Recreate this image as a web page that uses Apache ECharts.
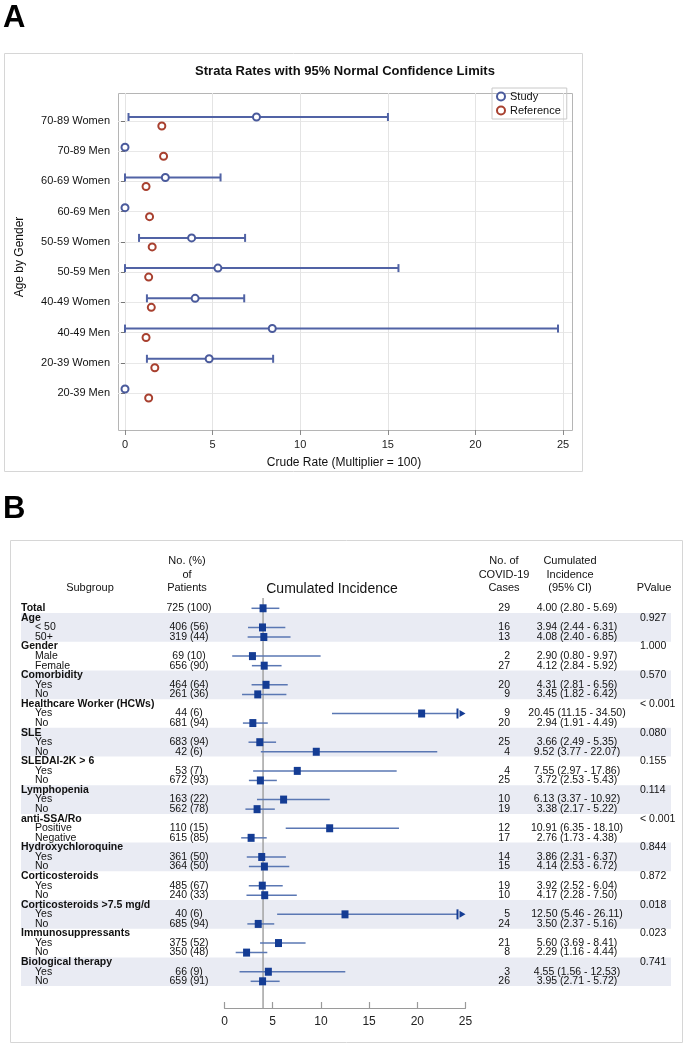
<!DOCTYPE html>
<html>
<head>
<meta charset="utf-8">
<script src="https://cdn.jsdelivr.net/npm/echarts@6/dist/echarts.min.js"></script>
<style>
  html, body { margin: 0; padding: 0; background: #fff; }
  #chart { width: 685px; height: 1045px; }
</style>
</head>
<body>
<div id="chart"></div>
<script>
// ---- Panel A : strata rates ----
var ageGender = ['70-89 Women', '70-89 Men', '60-69 Women', '60-69 Men', '50-59 Women',
                 '50-59 Men', '40-49 Women', '40-49 Men', '20-39 Women', '20-39 Men'];
var studyRate  = [7.5, 0, 2.3, 0, 3.8, 5.3, 4.0, 8.4, 4.8, 0];
var studyLower = [0.2, null, 0.0, null, 0.8, 0.0, 1.25, 0.0, 1.25, null];
var studyUpper = [15.0, null, 5.45, null, 6.85, 15.6, 6.8, 24.7, 8.45, null];
var referenceRate = [2.1, 2.2, 1.2, 1.4, 1.55, 1.35, 1.5, 1.2, 1.7, 1.35];
var rateTicks = [0, 5, 10, 15, 20, 25];

// ---- Panel B : cumulated incidence by subgroup ----
var rowLabels = ['Total', 'Age', '< 50', '50+', 'Gender', 'Male', 'Female', 'Comorbidity', 'Yes', 'No',
  'Healthcare Worker (HCWs)', 'Yes', 'No', 'SLE', 'Yes', 'No', 'SLEDAI-2K > 6', 'Yes', 'No',
  'Lymphopenia', 'Yes', 'No', 'anti-SSA/Ro', 'Positive', 'Negative', 'Hydroxychloroquine', 'Yes', 'No',
  'Corticosteroids', 'Yes', 'No', 'Corticosteroids >7.5 mg/d', 'Yes', 'No',
  'Immunosuppressants', 'Yes', 'No', 'Biological therapy', 'Yes', 'No'];
var groupNames = ['Age', 'Gender', 'Comorbidity', 'Healthcare Worker (HCWs)', 'SLE', 'SLEDAI-2K > 6',
  'Lymphopenia', 'anti-SSA/Ro', 'Hydroxychloroquine', 'Corticosteroids', 'Corticosteroids >7.5 mg/d',
  'Immunosuppressants', 'Biological therapy'];
var pValues = ['0.927', '1.000', '0.570', '< 0.001', '0.080', '0.155', '0.114', '< 0.001',
  '0.844', '0.872', '0.018', '0.023', '0.741'];
var patientsN = [725, null, 406, 319, null, 69, 656, null, 464, 261, null, 44, 681, null, 683, 42,
  null, 53, 672, null, 163, 562, null, 110, 615, null, 361, 364, null, 485, 240, null, 40, 685,
  null, 375, 350, null, 66, 659];
var patientsPct = [100, null, 56, 44, null, 10, 90, null, 64, 36, null, 6, 94, null, 94, 6,
  null, 7, 93, null, 22, 78, null, 15, 85, null, 50, 50, null, 67, 33, null, 6, 94,
  null, 52, 48, null, 9, 91];
var cases = [29, null, 16, 13, null, 2, 27, null, 20, 9, null, 9, 20, null, 25, 4,
  null, 4, 25, null, 10, 19, null, 12, 17, null, 14, 15, null, 19, 10, null, 5, 24,
  null, 21, 8, null, 3, 26];
var incidence = [4.00, null, 3.94, 4.08, null, 2.90, 4.12, null, 4.31, 3.45, null, 20.45, 2.94,
  null, 3.66, 9.52, null, 7.55, 3.72, null, 6.13, 3.38, null, 10.91, 2.76, null, 3.86, 4.14,
  null, 3.92, 4.17, null, 12.50, 3.50, null, 5.60, 2.29, null, 4.55, 3.95];
var ciLow = [2.80, null, 2.44, 2.40, null, 0.80, 2.84, null, 2.81, 1.82, null, 11.15, 1.91,
  null, 2.49, 3.77, null, 2.97, 2.53, null, 3.37, 2.17, null, 6.35, 1.73, null, 2.31, 2.53,
  null, 2.52, 2.28, null, 5.46, 2.37, null, 3.69, 1.16, null, 1.56, 2.71];
var ciHigh = [5.69, null, 6.31, 6.85, null, 9.97, 5.92, null, 6.56, 6.42, null, 34.50, 4.49,
  null, 5.35, 22.07, null, 17.86, 5.43, null, 10.92, 5.22, null, 18.10, 4.38, null, 6.37, 6.72,
  null, 6.04, 7.50, null, 26.11, 5.16, null, 8.41, 4.44, null, 12.53, 5.72];
var incidenceTicks = [0, 5, 10, 15, 20, 25];

var FONT = '"Liberation Sans", Arial, sans-serif';
var INK = '#111';
var BAR_BLUE = '#5163a5', STUDY_BLUE = '#4a5a9c', REF_RED = '#a8402f';
var FOREST_LINE = '#5a77b3', FOREST_MARK = '#143c94';
// column x positions of the table in panel B
var COL = { group: 21, sub: 35, patients: 189, cases: 510, ci: 577, p: 640, bandL: 21, bandR: 671 };

var chart = echarts.init(document.getElementById('chart'));

// 文本元素
function txt(x, y, s, align, bold, size) {
    return {
        type: 'text', x: x, y: y,
        style: {
            text: s, fill: INK,
            font: (bold ? 'bold ' : '') + (size || 10.5) + 'px ' + FONT,
            align: align, verticalAlign: 'middle',
            textAlign: align, textVerticalAlign: 'middle'
        }
    };
}

// 误差线 (panel A)
function renderErrorBar(params, api) {
    var row = api.value(0);
    var p1 = api.coord([api.value(1), row]);
    var p2 = api.coord([api.value(2), row]);
    var y = p1[1] - 4;
    var st = { stroke: BAR_BLUE, lineWidth: 2 };
    return {
        type: 'group',
        children: [
            { type: 'line', shape: { x1: p1[0], y1: y, x2: p2[0], y2: y }, style: st },
            { type: 'line', shape: { x1: p1[0], y1: y - 4, x2: p1[0], y2: y + 4 }, style: st },
            { type: 'line', shape: { x1: p2[0], y1: y - 4, x2: p2[0], y2: y + 4 }, style: st }
        ]
    };
}

// 森林图 (panel B)
function renderForest(params, api) {
    var row = api.value(0), est = api.value(1), lo = api.value(2), hi = api.value(3);
    var axisMax = incidenceTicks[incidenceTicks.length - 1];
    var pe = api.coord([est, row]);
    var y = pe[1];
    var xL = api.coord([lo, row])[0];
    var xEnd = api.coord([axisMax, row])[0];
    var over = hi > axisMax;
    var xH = over ? xEnd - 8 : api.coord([hi, row])[0];
    var kids = [
        { type: 'line', shape: { x1: xL, y1: y, x2: xH, y2: y }, style: { stroke: FOREST_LINE, lineWidth: 1.5 } },
        { type: 'rect', shape: { x: pe[0] - 3.5, y: y - 4, width: 7, height: 8 }, style: { fill: FOREST_MARK } }
    ];
    if (over) {
        kids.push({ type: 'line', shape: { x1: xH, y1: y - 5, x2: xH, y2: y + 5 }, style: { stroke: FOREST_MARK, lineWidth: 2 } });
        kids.push({ type: 'polygon', shape: { points: [[xEnd - 6, y - 3.5], [xEnd, y], [xEnd - 6, y + 3.5]] }, style: { fill: FOREST_MARK } });
    }
    return { type: 'group', children: kids };
}

// 灰色分组背景
function renderBand(params, api) {
    var half = api.size([0, 1])[1] / 2;
    var y1 = api.coord([0, api.value(1)])[1] - half;
    var y2 = api.coord([0, api.value(2)])[1] + half;
    return {
        type: 'rect',
        shape: { x: COL.bandL, y: y1, width: COL.bandR - COL.bandL, height: y2 - y1 },
        style: { fill: '#e9ebf3' }
    };
}

// 表格文字
function renderTable(params, api) {
    var i = api.value(1);
    var y = api.coord([0, i])[1];
    var label = rowLabels[i];
    var g = groupNames.indexOf(label);
    var isHead = label === 'Total' || g >= 0;
    var kids = [txt(isHead ? COL.group : COL.sub, y, label, 'left', isHead)];
    if (patientsN[i] != null) {
        kids.push(txt(COL.patients, y, patientsN[i] + ' (' + patientsPct[i] + ')', 'center'));
        kids.push(txt(COL.cases, y, String(cases[i]), 'right'));
        kids.push(txt(COL.ci, y, incidence[i].toFixed(2) + ' (' + ciLow[i].toFixed(2) + ' - ' + ciHigh[i].toFixed(2) + ')', 'center'));
    }
    if (g >= 0) {
        kids.push(txt(COL.p, y, pValues[g], 'left'));
    }
    return { type: 'group', children: kids };
}

// bands: every other subgroup block
var bandData = [];
var headIdx = [];
rowLabels.forEach(function (l, i) { if (groupNames.indexOf(l) >= 0) headIdx.push(i); });
headIdx.forEach(function (start, k) {
    var end = (k + 1 < headIdx.length ? headIdx[k + 1] : rowLabels.length) - 1;
    if (k % 2 === 0) bandData.push([0, start, end]);
});

var forestData = [];
incidence.forEach(function (v, i) {
    if (v != null) forestData.push([i, v, ciLow[i], ciHigh[i]]);
});

var errorData = [];
studyLower.forEach(function (v, i) {
    if (v != null) errorData.push([i, v, studyUpper[i]]);
});

var headerStyle = function (s, x, y, size, lh) {
    return {
        type: 'text', x: x, y: y, z: 10,
        style: {
            text: s, fill: INK, font: (size || 11) + 'px ' + FONT, lineHeight: lh || 13.3,
            align: 'center', verticalAlign: 'middle', textAlign: 'center', textVerticalAlign: 'middle'
        }
    };
};

chart.setOption({
    animation: false,
    textStyle: { fontFamily: FONT },
    graphic: [
        { type: 'text', x: 3, y: 3, style: { text: 'A', fill: '#000', font: 'bold 31px ' + FONT } },
        { type: 'rect', shape: { x: 4.5, y: 53.5, width: 578, height: 418 }, style: { fill: 'none', stroke: '#d6d6d6', lineWidth: 1 } },
        { type: 'rect', shape: { x: 118.5, y: 93.5, width: 454, height: 337 }, style: { fill: 'none', stroke: '#b5b5b5', lineWidth: 1 } },
        {
            type: 'text', x: 345, y: 71,
            style: { text: 'Strata Rates with 95% Normal Confidence Limits', fill: INK, font: 'bold 13px ' + FONT,
                     align: 'center', verticalAlign: 'middle', textAlign: 'center', textVerticalAlign: 'middle' }
        },
        { type: 'text', x: 3, y: 494, style: { text: 'B', fill: '#000', font: 'bold 31px ' + FONT } },
        { type: 'rect', shape: { x: 10.5, y: 540.5, width: 672, height: 502 }, style: { fill: 'none', stroke: '#d6d6d6', lineWidth: 1 } },
        headerStyle('Subgroup', 90, 588),
        headerStyle('No. (%)\nof\nPatients', 187, 574.5),
        headerStyle('Cumulated Incidence', 332, 589, 14),
        headerStyle('No. of\nCOVID-19\nCases', 504, 574.5),
        headerStyle('Cumulated\nIncidence\n(95% CI)', 570, 574.5),
        headerStyle('PValue', 654, 588)
    ],
    legend: {
        left: 492, top: 88, orient: 'vertical',
        itemWidth: 8, itemHeight: 8, itemGap: 3,
        padding: [3, 6, 3, 4],
        borderColor: '#c8c8c8', borderWidth: 1,
        textStyle: { fontSize: 11, color: INK, fontFamily: FONT },
        icon: 'circle',
        data: ['Study', 'Reference']
    },
    grid: [
        { left: 125, top: 93, width: 438, height: 337 },   // A: x axis + vertical grid lines
        { left: 118, top: 121, width: 454, height: 272 },  // A: data
        { left: 224.5, top: 598, width: 241, height: 410 },// B: axis + reference line
        { left: 224.5, top: 608.3, width: 241, height: 373 } // B: rows
    ],
    xAxis: [
        {
            gridIndex: 0, type: 'value', min: rateTicks[0], max: rateTicks[rateTicks.length - 1], interval: 5,
            axisLine: { show: false },
            axisTick: { show: true, length: 5, lineStyle: { color: '#8a8a8a' } },
            axisLabel: { fontSize: 11, color: '#222', margin: 9 },
            splitLine: { show: true, lineStyle: { color: '#e4e4e4' } },
            name: 'Crude Rate (Multiplier = 100)', nameLocation: 'middle', nameGap: 27,
            nameTextStyle: { fontSize: 12, color: INK }
        },
        { gridIndex: 1, type: 'value', min: -0.4, max: 25.5, show: false },
        {
            gridIndex: 2, type: 'value', min: incidenceTicks[0], max: incidenceTicks[incidenceTicks.length - 1], interval: 5,
            axisLine: { show: true, lineStyle: { color: '#9a9a9a', width: 1.2 } },
            axisTick: { show: true, inside: true, length: 6, lineStyle: { color: '#9a9a9a', width: 1.2 } },
            axisLabel: { fontSize: 12, color: '#222', margin: 8 },
            splitLine: { show: false }
        },
        { gridIndex: 3, type: 'value', min: 0, max: 25, show: false }
    ],
    yAxis: [
        { gridIndex: 0, type: 'value', show: false },
        {
            gridIndex: 1, type: 'category', data: ageGender, inverse: true, boundaryGap: false,
            axisLine: { show: false },
            axisTick: { show: true, length: 4, lineStyle: { color: '#777' } },
            axisLabel: { fontSize: 11, color: INK, margin: 8 },
            splitLine: { show: true, lineStyle: { color: '#e8e8e8' } },
            name: 'Age by Gender', nameLocation: 'middle', nameGap: 92, nameRotate: 90,
            nameTextStyle: { fontSize: 12, color: INK }
        },
        { gridIndex: 2, type: 'value', min: 0, max: 1, show: false },
        { gridIndex: 3, type: 'category', data: rowLabels, inverse: true, boundaryGap: false, show: false }
    ],
    series: [
        {
            name: 'bands', type: 'custom', xAxisIndex: 3, yAxisIndex: 3,
            renderItem: renderBand, data: bandData, encode: { x: 0, y: [1, 2] }, z: 1
        },
        {
            name: 'reference line', type: 'line', xAxisIndex: 2, yAxisIndex: 2,
            data: [[incidence[0], 0], [incidence[0], 1]],
            symbol: 'none', lineStyle: { color: '#a3a3a3', width: 1.5 }, z: 2
        },
        {
            name: 'forest', type: 'custom', xAxisIndex: 3, yAxisIndex: 3,
            renderItem: renderForest, data: forestData, encode: { x: 1, y: 0 }, z: 3
        },
        {
            name: 'table', type: 'custom', xAxisIndex: 3, yAxisIndex: 3,
            renderItem: renderTable, data: rowLabels.map(function (l, i) { return [0, i]; }),
            encode: { x: 0, y: 1 }, z: 4
        },
        {
            name: 'Study CI', type: 'custom', xAxisIndex: 1, yAxisIndex: 1,
            renderItem: renderErrorBar, data: errorData, encode: { x: [1, 2], y: 0 }, z: 3
        },
        {
            name: 'Study', type: 'scatter', xAxisIndex: 1, yAxisIndex: 1,
            data: studyRate.map(function (v, i) { return [v, i]; }),
            symbol: 'circle', symbolSize: 7, symbolOffset: [0, -4],
            itemStyle: { color: '#fff', borderColor: STUDY_BLUE, borderWidth: 2, opacity: 1 }, z: 4
        },
        {
            name: 'Reference', type: 'scatter', xAxisIndex: 1, yAxisIndex: 1,
            data: referenceRate.map(function (v, i) { return [v, i]; }),
            symbol: 'circle', symbolSize: 7, symbolOffset: [0, 5],
            itemStyle: { color: '#fff', borderColor: REF_RED, borderWidth: 2, opacity: 1 }, z: 4
        }
    ]
});
</script>
</body>
</html>
